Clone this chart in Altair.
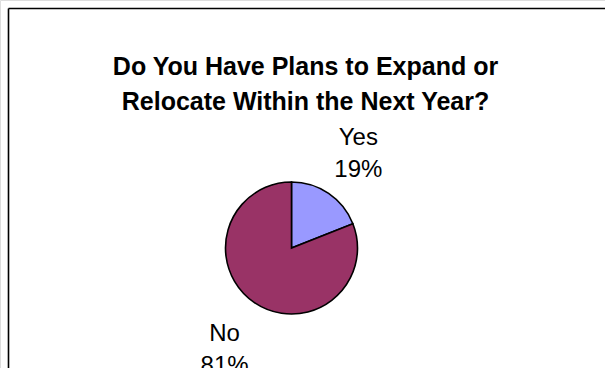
import altair as alt
import pandas as pd

categories = ["Yes", "No"]
values = [19, 81]
order_idx = [0, 1]
colors = ["#9999FF", "#993366"]
title_lines = ["Do You Have Plans to Expand or", "Relocate Within the Next Year?"]

df = pd.DataFrame({"category": categories, "value": values, "idx": order_idx})
df["label"] = [f"{c}\n{v}%" for c, v in zip(categories, values)]

FONT = "Liberation Sans"
CX, CY = 291.5, 248

base = alt.Chart(df).encode(
    theta=alt.Theta("value:Q", stack=True),
    order=alt.Order("idx:Q"),
)

pie = base.mark_arc(outerRadius=66, stroke="black", strokeWidth=1.6).encode(
    color=alt.Color("category:N", scale=alt.Scale(domain=categories, range=colors), legend=None),
    x=alt.value(CX),
    y=alt.value(CY),
)

labels = base.mark_text(
    radius=119, font=FONT, fontSize=24, lineBreak="\n", lineHeight=32,
    align="center", baseline="middle", color="black", dy=-12,
).encode(
    text="label:N",
    detail="category:N",
    x=alt.value(CX),
    y=alt.value(CY),
)

frame_df = pd.DataFrame({"a": [0]})
left_rule = alt.Chart(frame_df).mark_rule(color="black", strokeWidth=1.6).encode(
    x=alt.value(8.5), y=alt.value(8.5), y2=alt.value(400)
)
top_rule = alt.Chart(frame_df).mark_rule(color="black", strokeWidth=1.6).encode(
    x=alt.value(8.5), x2=alt.value(700), y=alt.value(8.5)
)

chart = alt.layer(left_rule, top_rule, pie, labels).properties(
    width=605,
    height=368,
    padding=0,
    autosize=alt.AutoSizeParams(type="none"),
    title=alt.TitleParams(
        text=title_lines,
        font=FONT,
        fontSize=25,
        fontWeight="bold",
        lineHeight=35,
        anchor="middle",
        baseline="alphabetic",
        color="black",
        dx=3,
        dy=135,
        offset=0,
    ),
).configure_view(stroke=None).configure(background="white")

chart.save("out.html", embed_options={"renderer": "svg", "actions": False})
